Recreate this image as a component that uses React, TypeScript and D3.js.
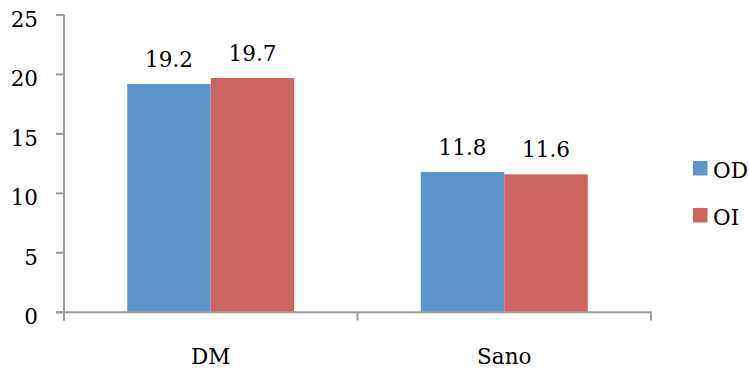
import React from "react";
import * as d3 from "d3";

// Chart data
const categories = ["DM", "Sano"];
const seriesNames = ["OD", "OI"];
const odValues = [19.2, 11.8];
const oiValues = [19.7, 11.6];
const yTicks = [0, 5, 10, 15, 20, 25];

const seriesValues = [odValues, oiValues];
const colors = ["#5E96CB", "#CD655F"];

const W = 749;
const H = 373;
const FONT = "DejaVu Serif";
const FS = 21.5;

export default function App() {
  const x = d3.scaleBand<string>().domain(categories).range([64, 651]).padding(0);
  const y = d3.scaleLinear().domain([0, 25]).range([312.3, 15]);
  const axisColor = "#9C9C9C";

  // inner scale for series within a category: bars take ~57% of the band, centered
  const groupFrac = 0.569;
  const inner = d3
    .scaleBand<string>()
    .domain(seriesNames)
    .range([0, x.bandwidth() * groupFrac])
    .padding(0);
  const groupOffset = (x.bandwidth() * (1 - groupFrac)) / 2;

  return (
    <svg
      width={W}
      height={H}
      style={{ position: "absolute", left: 0, top: 0, background: "#fff" }}
      fontFamily={FONT}
    >
      {/* bars */}
      {categories.map((c, ci) =>
        seriesNames.map((s, si) => {
          const v = seriesValues[si][ci];
          const bx = (x(c) as number) + groupOffset + (inner(s) as number);
          const bw = inner.bandwidth();
          return (
            <g key={c + s}>
              <rect x={bx} y={y(v)} width={bw} height={y(0) - y(v)} fill={colors[si]} />
              <text
                x={bx + bw / 2}
                y={y(v) - 17}
                textAnchor="middle"
                fontSize={FS}
                fill="#000"
              >
                {v.toFixed(1)}
              </text>
            </g>
          );
        })
      )}

      {/* y axis */}
      <line x1={64} x2={64} y1={y(25)} y2={320.5} stroke={axisColor} strokeWidth={2} />
      {yTicks.map((t) => (
        <g key={t}>
          <line x1={56} x2={64} y1={y(t)} y2={y(t)} stroke={axisColor} strokeWidth={2} />
          <text x={38} y={y(t) + 12} textAnchor="end" fontSize={FS} fill="#000">
            {t}
          </text>
        </g>
      ))}

      {/* x axis */}
      <line x1={56} x2={652} y1={y(0)} y2={y(0)} stroke={axisColor} strokeWidth={2} />
      {[...categories.map((c) => x(c) as number), 651].map((px, i) => (
        <line key={i} x1={px} x2={px} y1={y(0)} y2={320.5} stroke={axisColor} strokeWidth={2} />
      ))}
      {categories.map((c) => (
        <text
          key={c}
          x={(x(c) as number) + x.bandwidth() / 2}
          y={364}
          textAnchor="middle"
          fontSize={FS}
          fill="#000"
        >
          {c}
        </text>
      ))}

      {/* legend */}
      {seriesNames.map((s, i) => (
        <g key={s} transform={`translate(693, ${161 + i * 47})`}>
          <rect x={0} y={0} width={14.5} height={14.5} fill={colors[i]} />
          <text x={20} y={16.5} fontSize={FS} fill="#000">
            {s}
          </text>
        </g>
      ))}
    </svg>
  );
}
